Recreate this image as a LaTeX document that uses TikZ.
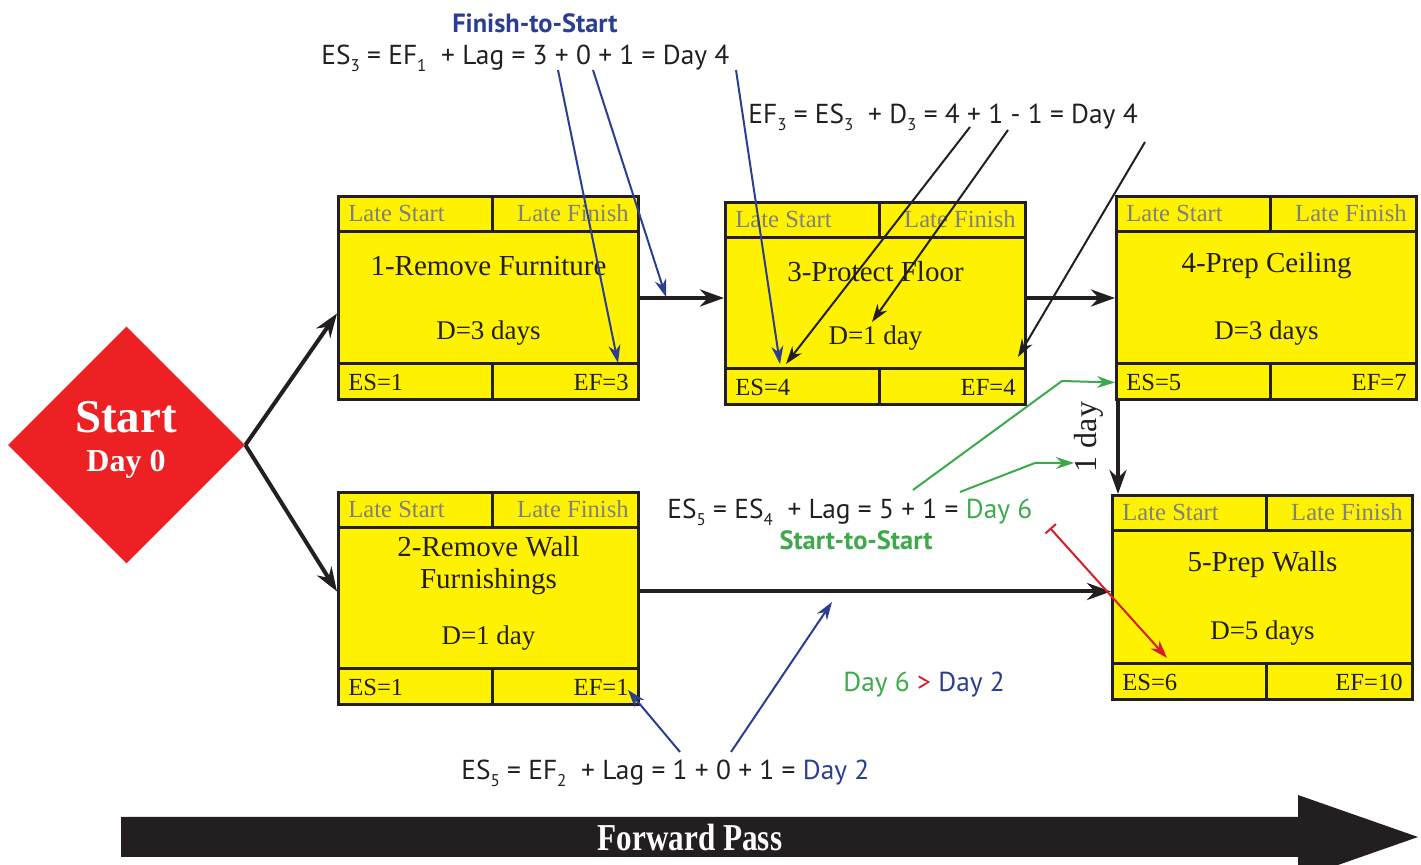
\documentclass[tikz,border=0pt]{standalone}
\usepackage{fontspec}
\setmainfont{Liberation Serif}
\newfontfamily\formfont{PT Sans}
\usepackage{graphicx}
\usepackage{tikz}
\usetikzlibrary{arrows.meta}
\usetikzlibrary{shapes}
\usetikzlibrary{positioning}

\definecolor{boxyellow}{RGB}{255,242,0}
\definecolor{startred}{RGB}{237,32,36}
\definecolor{fsblue}{RGB}{43,62,146}
\definecolor{ssgreen}{RGB}{60,170,74}
\definecolor{lagred}{RGB}{215,30,40}
\definecolor{inkblack}{RGB}{35,31,32}
\definecolor{lategrey}{RGB}{128,128,128}

\newcommand{\subidx}[1]{\raisebox{-0.45ex}{\fontsize{8.5}{8.5}\selectfont #1}}

\newcommand{\taskbox}[9][35.5pt]{%
  \node[taskbody,minimum height=#5] (#2) at (#3,#4) {};
  \draw[boxline] ([yshift=-18.5pt]#2.north west) -- ([yshift=-18.5pt]#2.north east)
                 ([yshift=18.5pt]#2.south west) -- ([yshift=18.5pt]#2.south east)
                 ([xshift=77.5pt]#2.north west) -- ([xshift=77.5pt,yshift=-18.5pt]#2.north west)
                 ([xshift=77.5pt]#2.south west) -- ([xshift=77.5pt,yshift=18.5pt]#2.south west);
  \node[late,anchor=west] (#2-ls) at ([xshift=5.5pt,yshift=-9.25pt]#2.north west) {Late Start};
  \node[late,anchor=east] (#2-lf) at ([xshift=-5.5pt,yshift=-9.25pt]#2.north east) {Late Finish};
  \node[taskname] (#2-name) at ([yshift=-#1]#2.north) {#6};
  \node[dur] (#2-dur) at ([yshift=34pt]#2.south) {#7};
  \node[early,anchor=west] (#2-es) at ([xshift=5.5pt,yshift=9.25pt]#2.south west) {ES=#8};
  \node[early,anchor=east] (#2-ef) at ([xshift=-5.5pt,yshift=9.25pt]#2.south east) {EF=#9};
}

\begin{document}
\begin{tikzpicture}[x=0.5pt,y=-0.5pt,
    taskbody/.style={draw=inkblack,line width=1.5pt,fill=boxyellow,minimum width=150pt,anchor=north west,inner sep=0pt},
    boxline/.style={draw=inkblack,line width=1.5pt},
    late/.style={text=lategrey,font=\fontsize{12.3}{14}\selectfont,inner sep=0pt},
    early/.style={text=inkblack,font=\fontsize{12.3}{14}\selectfont,inner sep=0pt},
    taskname/.style={text=inkblack,font=\fontsize{14.5}{16}\selectfont,align=center,inner sep=0pt},
    dur/.style={text=inkblack,font=\fontsize{13.5}{16}\selectfont,inner sep=0pt},
    flow/.style={draw=inkblack,line width=2pt,-{Stealth[length=12pt,width=8.5pt]}},
    note/.style={line width=1pt,-{Stealth[length=9pt,width=6pt]}},
    formula/.style={text=inkblack,font=\formfont\fontsize{13.7}{15}\selectfont,inner sep=0pt},
    tag/.style={font=\formfont\bfseries\fontsize{13.2}{15}\selectfont,inner sep=0pt},
  ]
    \useasboundingbox (0,0) rectangle (1421,865);

    \node[diamond,fill=startred,minimum width=118.5pt,minimum height=118.5pt,inner sep=0pt] (start) at (126.5,445) {};
    \node[anchor=base,text=white,font=\bfseries\fontsize{23.5}{24}\selectfont,inner sep=0pt] (start-txt) at (126,433) {Start};
    \node[anchor=base,text=white,font=\bfseries\fontsize{16}{18}\selectfont,inner sep=0pt] (start-day) at (126,472) {Day 0};

    \taskbox{t1}{337}{195}{101.5pt}{1-Remove Furniture}{D=3 days}{1}{3}
    \taskbox[37.5pt]{t2}{337}{491}{106pt}{2-Remove Wall\\Furnishings}{D=1 day}{1}{1}
    \taskbox{t3}{724}{201}{101pt}{3-Protect Floor}{D=1 day}{4}{4}
    \taskbox{t4}{1115}{195}{101.5pt}{4-Prep Ceiling}{D=3 days}{5}{7}
    \taskbox{t5}{1111}{494}{102pt}{5-Prep Walls}{D=5 days}{6}{10}

    \draw[flow] (start.east) -- ([yshift=-7.75pt]t1.west);
    \draw[flow] (start.east) -- ([yshift=3.5pt]t2.west);
    \draw[flow] (t1.east) -- (t1.east -| t3.west);
    \draw[flow] (t4.west -| t3.east) -- (t4.west);
    \draw[flow] ([xshift=1.5pt]t4.south west) -- ([xshift=1.5pt]t4.south west |- t5.north);
    \draw[flow] ([yshift=3.5pt]t2.east) -- ([yshift=3.5pt]t2.east -| t5.west);

    \node[dur,rotate=90,font=\fontsize{16}{18}\selectfont] (lagday) at (1089,437) {1 day};

    \fill[inkblack] (121,817) -- (1298,817) -- (1298,795) -- (1418,837) -- (1298,879) -- (1298,857) -- (121,857) -- cycle;
    \node[text=white,font=\bfseries\fontsize{19}{20}\selectfont,inner sep=0pt] (pass) at (690,838) {\scalebox{0.82}[1]{Forward Pass}};

    \node[tag,text=fsblue,anchor=base] (fs-label) at (535,33) {Finish-to-Start};
    \node[formula,anchor=base west] (fs-eq) at (321,65) {ES\subidx{3} = EF\subidx{1}\ \ + Lag = 3 + 0 + 1 = Day 4};
    \node[formula,anchor=base west] (ef-eq) at (748,124) {EF\subidx{3} = ES\subidx{3}\ \ + D\subidx{3} = 4 + 1 - 1 = Day 4};
    \node[formula,anchor=base west] (ss-eq) at (667,519) {ES\subidx{5} = ES\subidx{4}\ \ + Lag = 5 + 1 = {\color{ssgreen}Day 6}};
    \node[tag,text=ssgreen,anchor=base] (ss-label) at (856,550) {Start-to-Start};
    \node[formula,anchor=base west] (fs2-eq) at (461,780) {ES\subidx{5} = EF\subidx{2}\ \ + Lag = 1 + 0 + 1 = {\color{fsblue}Day 2}};
    \node[formula,anchor=base west] (compare) at (843,692) {{\color{ssgreen}Day 6} {\color{lagred}>} {\color{fsblue}Day 2}};

    \coordinate (b1-tail) at (558,70);   \coordinate (b1-head) at (618,363);
    \coordinate (b2-tail) at (593,70);   \coordinate (b2-head) at (666,297);
    \coordinate (b3-tail) at (736,70);   \coordinate (b3-head) at (780,364);
    \coordinate (b4-tail) at (680,752);  \coordinate (b4-head) at (628,690);
    \coordinate (b5-tail) at (731,752);  \coordinate (b5-head) at (832,602);
    \coordinate (k1-tail) at (970,127);  \coordinate (k1-head) at (786,364);
    \coordinate (k2-tail) at (1008,130); \coordinate (k2-head) at (872,322);
    \coordinate (k3-tail) at (1145,142); \coordinate (k3-head) at (1018,357);
    \coordinate (g1-tail) at (913,490);  \coordinate (g1-bend) at (1062,381);
    \coordinate (g2-tail) at (960,492);  \coordinate (g2-bend) at (1035,463);
    \coordinate (g2-head) at (1074,463);
    \coordinate (r-tail) at (1050,528);  \coordinate (r-head) at (1167,658);

    \draw[note,fsblue] (b1-tail) -- (b1-head);
    \draw[note,fsblue] (b2-tail) -- (b2-head);
    \draw[note,fsblue] (b3-tail) -- (b3-head);
    \draw[note,fsblue] (b4-tail) -- (b4-head);
    \draw[note,fsblue] (b5-tail) -- (b5-head);
    \draw[note,inkblack] (k1-tail) -- (k1-head);
    \draw[note,inkblack] (k2-tail) -- (k2-head);
    \draw[note,inkblack] (k3-tail) -- (k3-head);
    \draw[note,ssgreen] (g1-tail) -- (g1-bend) -- ([yshift=9.25pt]t4.south west);
    \draw[note,ssgreen] (g2-tail) -- (g2-bend) -- (g2-head);
    \draw[line width=1pt,lagred,{Bar[width=7pt]}-{Stealth[length=9pt,width=6pt]}] (r-tail) -- (r-head);
\end{tikzpicture}
\end{document}
